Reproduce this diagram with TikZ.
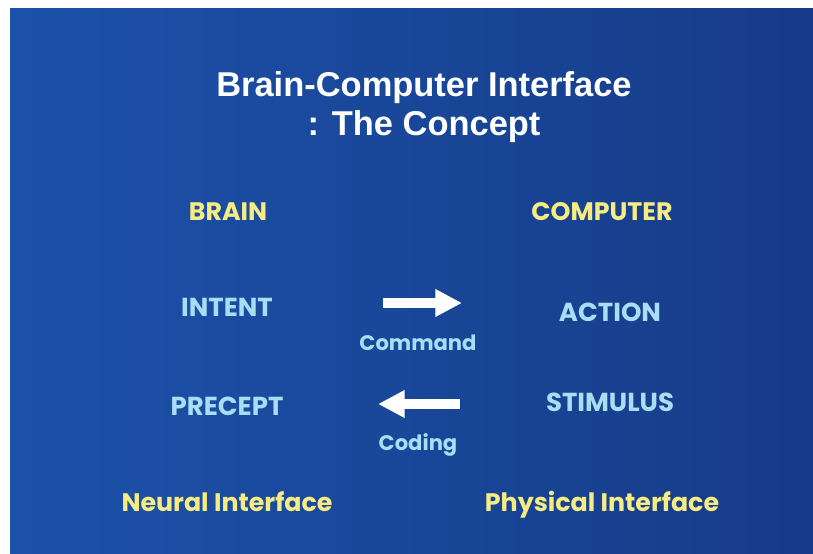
\documentclass[tikz,border=0pt]{standalone}
\usepackage{fontspec}
\setmainfont{Liberation Sans}
\newfontfamily\roundfont{Poppins}
\usetikzlibrary{arrows.meta}
\definecolor{slideleft}{HTML}{1C52AA}
\definecolor{slideright}{HTML}{163B88}
\definecolor{sideyellow}{HTML}{F6EC82}
\definecolor{stageblue}{HTML}{A8DDF3}

\begin{document}
\begin{tikzpicture}[x=0.025cm, y=-0.025cm,
  titletext/.style={font=\fontsize{24.5}{28}\selectfont\bfseries, text=white, align=center},
  sidetext/.style={font=\roundfont\fontsize{18}{21}\selectfont\bfseries, text=sideyellow,
                   text height=1.6ex, text depth=0pt},
  stagetext/.style={font=\roundfont\fontsize{18.5}{21}\selectfont\bfseries, text=stageblue,
                   text height=1.6ex, text depth=0pt},
  linktext/.style={font=\roundfont\fontsize{15}{18}\selectfont\bfseries, text=stageblue,
                   text height=1.6ex, text depth=0pt},
  fatarrow/.style={-{Triangle[length=19pt,width=18.5pt]}, line width=7pt, white}
]
%--- Slide background ---
\fill[white] (0,0) rectangle (813,553);
\shade[left color=slideleft, right color=slideright] (10,8) rectangle (813,553);

%--- Title ---
\node[titletext] (title) at (424,107) {Brain-Computer Interface\\ : The Concept};

%--- Column heads ---
\node[sidetext] (brain) at (228,215) {BRAIN};
\node[sidetext] (computer) at (602,215) {COMPUTER};

%--- Intent / action ---
\node[stagetext] (intent) at (227,311) {INTENT};
\node[stagetext] (action) at (610,316) {ACTION};
\coordinate (cmdL) at (383,303);
\coordinate (cmdR) at (462,303);
\draw[fatarrow] (cmdL) -- (cmdR);
\node[linktext] (command) at (418,345) {Command};

%--- Precept / stimulus ---
\node[stagetext] (precept) at (227,410) {PRECEPT};
\node[stagetext] (stimulus) at (610,406) {STIMULUS};
\coordinate (codR) at (460,404);
\coordinate (codL) at (378,404);
\draw[fatarrow] (codR) -- (codL);
\node[linktext] (coding) at (418,445) {Coding};

%--- Interfaces ---
\node[sidetext] (neural) at (227,506) {Neural Interface};
\node[sidetext] (physical) at (602,506) {Physical Interface};
\end{tikzpicture}
\end{document}
